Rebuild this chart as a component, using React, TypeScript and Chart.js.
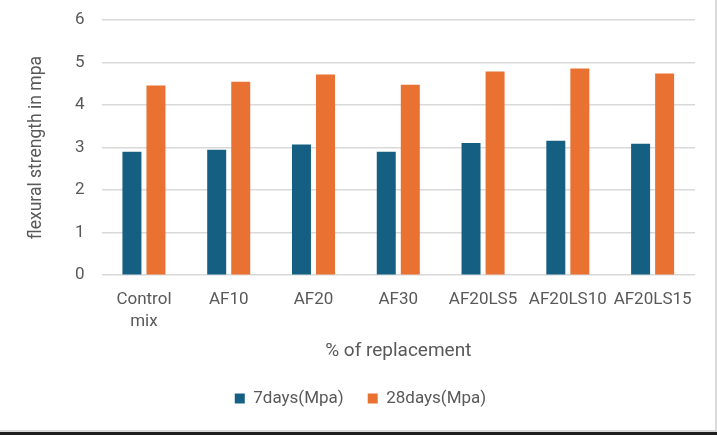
import React, { useEffect, useRef } from "react";
import { Chart, registerables } from "chart.js";

Chart.register(...registerables);

const categories: (string | string[])[] = [
  ["Control", "mix"],
  "AF10",
  "AF20",
  "AF30",
  "AF20LS5",
  "AF20LS10",
  "AF20LS15",
];
const days7: number[] = [2.9, 2.95, 3.07, 2.9, 3.11, 3.16, 3.09];
const days28: number[] = [4.46, 4.55, 4.72, 4.48, 4.79, 4.86, 4.74];
const yTicks: number[] = [0, 1, 2, 3, 4, 5, 6];

const FONT = "Roboto, 'Noto Sans', sans-serif";
const TEXT = "#595959";

export default function App() {
  const ref = useRef<HTMLCanvasElement | null>(null);
  useEffect(() => {
    if (!ref.current) return;
    const chart = new Chart(ref.current, {
      type: "bar",
      data: {
        labels: categories,
        datasets: [
          {
            label: "7days(Mpa)",
            data: days7,
            backgroundColor: "#156082",
            categoryPercentage: 0.567,
            barPercentage: 0.79,
          },
          {
            label: "28days(Mpa)",
            data: days28,
            backgroundColor: "#E97132",
            categoryPercentage: 0.567,
            barPercentage: 0.79,
          },
        ],
      },
      options: {
        animation: false,
        responsive: false,
        maintainAspectRatio: false,
        layout: { padding: { left: 26, right: 20, top: 20, bottom: 13 } },
        plugins: {
          tooltip: { enabled: false },
          legend: {
            position: "bottom",
            labels: {
              boxWidth: 10,
              boxHeight: 10,
              padding: 24,
              color: TEXT,
              font: { family: FONT, size: 17 },
            },
          },
        },
        scales: {
          x: {
            grid: { display: false },
            border: { display: false },
            ticks: {
              color: TEXT,
              font: { family: FONT, size: 17, lineHeight: 1.294 },
              maxRotation: 0,
              autoSkip: false,
              padding: 6,
            },
            title: {
              display: true,
              text: "% of replacement",
              color: TEXT,
              font: { family: FONT, size: 19 },
              padding: { top: 1, bottom: 3 },
            },
          },
          y: {
            min: 0,
            max: 6,
            afterBuildTicks: (axis: any) => {
              axis.ticks = yTicks.map((v) => ({ value: v }));
            },
            grid: {
              color: "#d9d9d9",
              lineWidth: 1.5,
              drawTicks: true,
              tickLength: 12,
              tickColor: "rgba(0,0,0,0)",
            },
            border: { display: false },
            ticks: {
              color: TEXT,
              font: { family: FONT, size: 17 },
              padding: 5,
            },
            title: {
              display: true,
              text: "flexural strength in mpa",
              color: TEXT,
              font: { family: FONT, size: 17.5 },
              padding: { top: 0, bottom: 23 },
            },
          },
        },
      },
    });
    return () => chart.destroy();
  }, []);

  return (
    <div
      style={{
        position: "fixed",
        left: 0,
        top: 0,
        width: 717,
        height: 435,
        background: "#1f1f1f",
      }}
    >
      <div
        style={{
          position: "absolute",
          left: 0,
          top: 0,
          width: 717,
          height: 432,
          background: "#d9d9d9",
        }}
      >
        <div
          style={{
            position: "absolute",
            left: 0,
            top: 0,
            width: 715,
            height: 430,
            background: "#ffffff",
          }}
        >
          <canvas ref={ref} width={715} height={430} />
        </div>
      </div>
    </div>
  );
}
